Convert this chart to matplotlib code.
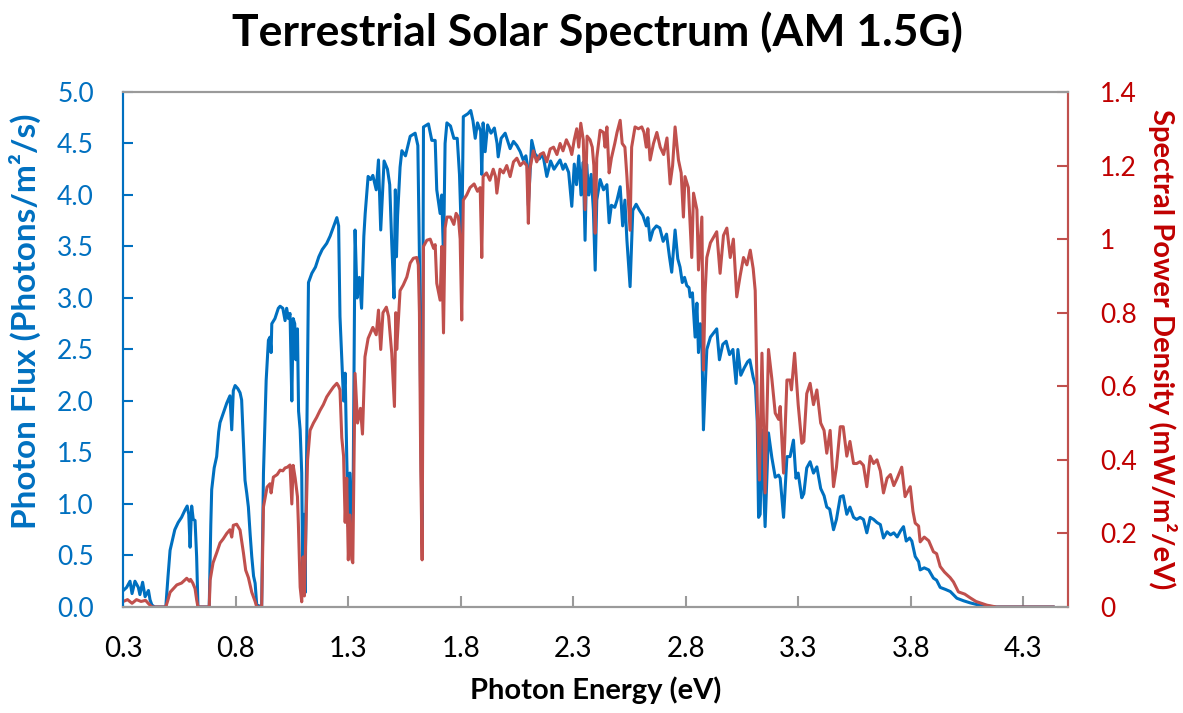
import numpy as np
import matplotlib
matplotlib.use("Agg")
import matplotlib.pyplot as plt

plt.rcParams['font.family'] = ['Lato', 'DejaVu Sans']

# photon flux (left axis)
flux_energy = [
    0.301, 0.316, 0.331, 0.340, 0.353, 0.368, 0.375, 0.387, 0.398, 0.413, 0.420, 0.428, 0.440,
    0.490, 0.500, 0.509, 0.530, 0.545, 0.560, 0.575, 0.585, 0.592, 0.598, 0.605, 0.612, 0.620,
    0.627, 0.633, 0.683, 0.690, 0.694, 0.705, 0.716, 0.725, 0.731, 0.745, 0.761, 0.775, 0.783,
    0.790, 0.798, 0.810, 0.820, 0.827, 0.835, 0.842, 0.850, 0.857, 0.865, 0.872, 0.880, 0.887,
    0.894, 0.916, 0.924, 0.936, 0.946, 0.953, 0.958, 0.961, 0.975, 0.990, 0.998, 1.010, 1.020,
    1.027, 1.035, 1.042, 1.050, 1.056, 1.063, 1.068, 1.075, 1.080, 1.087, 1.094, 1.099, 1.104,
    1.109, 1.116, 1.124, 1.139, 1.155, 1.170, 1.185, 1.205, 1.220, 1.235, 1.250, 1.258, 1.264,
    1.272, 1.280, 1.287, 1.294, 1.301, 1.308, 1.316, 1.322, 1.331, 1.340, 1.350, 1.360, 1.370,
    1.376, 1.389, 1.400, 1.410, 1.425, 1.435, 1.445, 1.460, 1.475, 1.485, 1.494, 1.504, 1.510,
    1.515, 1.520, 1.531, 1.539, 1.555, 1.576, 1.598, 1.610, 1.617, 1.623, 1.629, 1.635, 1.657,
    1.672, 1.687, 1.694, 1.709, 1.716, 1.724, 1.731, 1.739, 1.755, 1.770, 1.785, 1.795, 1.805,
    1.812, 1.833, 1.845, 1.855, 1.865, 1.875, 1.889, 1.894, 1.900, 1.909, 1.920, 1.935, 1.950,
    1.962, 1.967, 1.980, 1.998, 2.010, 2.020, 2.035, 2.050, 2.065, 2.078, 2.090, 2.096, 2.101,
    2.116, 2.130, 2.150, 2.165, 2.183, 2.200, 2.215, 2.230, 2.242, 2.255, 2.265, 2.280, 2.294,
    2.305, 2.315, 2.325, 2.335, 2.345, 2.353, 2.360, 2.370, 2.380, 2.390, 2.398, 2.405, 2.420,
    2.435, 2.450, 2.460, 2.470, 2.485, 2.495, 2.509, 2.520, 2.530, 2.539, 2.553, 2.565, 2.580,
    2.595, 2.610, 2.625, 2.632, 2.642, 2.655, 2.670, 2.685, 2.700, 2.715, 2.728, 2.738, 2.753,
    2.765, 2.775, 2.785, 2.795, 2.805, 2.815, 2.820, 2.830, 2.842, 2.850, 2.857, 2.865, 2.872,
    2.879, 2.886, 2.894, 2.910, 2.924, 2.938, 2.950, 2.965, 2.980, 2.995, 3.010, 3.024, 3.032,
    3.045, 3.060, 3.075, 3.085, 3.100, 3.110, 3.118, 3.124, 3.131, 3.139, 3.146, 3.153, 3.168,
    3.183, 3.198, 3.213, 3.220, 3.235, 3.250, 3.264, 3.279, 3.290, 3.300, 3.316, 3.325, 3.338,
    3.353, 3.368, 3.383, 3.400, 3.415, 3.427, 3.440, 3.457, 3.470, 3.487, 3.500, 3.516, 3.530,
    3.546, 3.560, 3.575, 3.590, 3.605, 3.620, 3.635, 3.650, 3.665, 3.679, 3.695, 3.710, 3.725,
    3.740, 3.755, 3.768, 3.780, 3.795, 3.805, 3.820, 3.835, 3.842, 3.860, 3.880, 3.901, 3.915,
    3.931, 3.955, 3.976, 4.005, 4.035, 4.064, 4.109, 4.180, 4.433,
]
flux = [
    0.16, 0.19, 0.25, 0.13, 0.25, 0.19, 0.12, 0.24, 0.10, 0.16, 0.07, 0.02, 0.0,
    0.0, 0.30, 0.55, 0.75, 0.82, 0.87, 0.94, 0.98, 0.90, 0.58, 0.98, 0.85, 0.84,
    0.49, 0.0, 0.0, 0.80, 1.14, 1.35, 1.46, 1.70, 1.79, 1.88, 1.98, 2.05, 1.72,
    2.10, 2.15, 2.12, 2.08, 2.01, 1.60, 1.23, 1.10, 0.97, 0.70, 0.49, 0.30, 0.23,
    0.02, 0.0, 1.30, 2.20, 2.59, 2.62, 2.47, 2.75, 2.80, 2.90, 2.92, 2.90, 2.78,
    2.90, 2.80, 2.85, 2.00, 2.80, 2.75, 2.40, 2.70, 1.90, 1.72, 1.30, 0.15, 0.90,
    0.14, 1.50, 3.15, 3.24, 3.30, 3.40, 3.47, 3.53, 3.60, 3.69, 3.78, 3.70, 2.82,
    2.40, 2.00, 2.27, 1.46, 0.78, 1.30, 0.72, 1.00, 3.66, 3.00, 3.20, 2.90, 3.60,
    3.82, 4.18, 4.15, 4.19, 4.05, 4.34, 3.66, 4.33, 4.25, 4.10, 3.53, 3.00, 4.05,
    3.40, 3.80, 4.27, 4.43, 4.38, 4.57, 4.60, 4.48, 3.40, 1.80, 0.62, 4.66, 4.69,
    4.53, 4.53, 4.05, 3.82, 4.00, 3.40, 4.50, 4.70, 4.67, 4.55, 4.55, 4.20, 3.50,
    4.76, 4.79, 4.82, 4.72, 4.55, 4.70, 4.62, 4.20, 4.70, 4.42, 4.68, 4.60, 4.65,
    4.50, 4.37, 4.55, 4.60, 4.52, 4.45, 4.52, 4.48, 4.42, 4.34, 4.38, 4.30, 3.90,
    4.53, 4.40, 4.35, 4.40, 4.18, 4.33, 4.25, 4.30, 4.34, 4.25, 4.30, 4.22, 3.89,
    4.30, 4.10, 4.38, 4.00, 4.32, 3.56, 4.30, 4.00, 4.20, 3.85, 3.27, 3.95, 4.15,
    4.05, 4.10, 3.73, 3.90, 3.88, 3.95, 4.08, 3.70, 3.95, 3.56, 3.11, 3.85, 3.91,
    3.85, 3.80, 3.70, 3.78, 3.56, 3.66, 3.70, 3.68, 3.55, 3.62, 3.40, 3.25, 3.66,
    3.38, 3.30, 3.15, 3.20, 3.12, 3.10, 3.01, 3.05, 2.62, 2.95, 2.47, 2.75, 2.55,
    1.72, 2.10, 2.50, 2.62, 2.66, 2.70, 2.40, 2.55, 2.58, 2.45, 2.50, 2.17, 2.50,
    2.25, 2.32, 2.38, 2.40, 2.23, 2.15, 1.80, 0.87, 0.90, 1.72, 1.20, 0.78, 1.69,
    1.45, 1.26, 1.28, 1.25, 0.87, 1.46, 1.46, 1.62, 1.25, 1.30, 1.06, 1.10, 1.35,
    1.41, 1.30, 1.36, 1.15, 1.08, 0.97, 0.95, 0.75, 0.85, 1.07, 1.08, 0.90, 0.97,
    0.87, 0.85, 0.87, 0.85, 0.72, 0.87, 0.85, 0.82, 0.80, 0.67, 0.73, 0.70, 0.72,
    0.68, 0.74, 0.78, 0.64, 0.67, 0.64, 0.49, 0.44, 0.36, 0.38, 0.36, 0.28, 0.26,
    0.19, 0.17, 0.15, 0.085, 0.06, 0.04, 0.015, 0.0, 0.0,
]

# spectral power density (right axis)
power_energy = [
    0.301, 0.320, 0.340, 0.360, 0.380, 0.400, 0.415, 0.428, 0.490, 0.500, 0.509, 0.539, 0.560,
    0.583, 0.595, 0.600, 0.610, 0.620, 0.627, 0.633, 0.683, 0.687, 0.700, 0.716, 0.731, 0.745,
    0.761, 0.775, 0.783, 0.790, 0.805, 0.820, 0.835, 0.845, 0.857, 0.872, 0.887, 0.894, 0.916,
    0.924, 0.940, 0.953, 0.958, 0.968, 0.985, 0.998, 1.010, 1.020, 1.030, 1.042, 1.050, 1.056,
    1.065, 1.075, 1.079, 1.087, 1.094, 1.100, 1.106, 1.112, 1.120, 1.131, 1.146, 1.160, 1.176,
    1.190, 1.205, 1.220, 1.235, 1.250, 1.258, 1.264, 1.272, 1.280, 1.287, 1.294, 1.301, 1.308,
    1.316, 1.321, 1.331, 1.342, 1.355, 1.364, 1.375, 1.389, 1.410, 1.425, 1.435, 1.445, 1.455,
    1.470, 1.480, 1.494, 1.506, 1.512, 1.516, 1.531, 1.545, 1.561, 1.576, 1.590, 1.605, 1.612,
    1.617, 1.623, 1.629, 1.635, 1.650, 1.665, 1.680, 1.687, 1.694, 1.709, 1.716, 1.724, 1.731,
    1.739, 1.755, 1.770, 1.780, 1.790, 1.798, 1.805, 1.812, 1.827, 1.842, 1.860, 1.875, 1.887,
    1.894, 1.900, 1.915, 1.930, 1.945, 1.955, 1.961, 1.975, 1.990, 2.005, 2.020, 2.035, 2.050,
    2.065, 2.080, 2.094, 2.101, 2.108, 2.123, 2.138, 2.153, 2.168, 2.183, 2.198, 2.213, 2.228,
    2.242, 2.255, 2.270, 2.285, 2.294, 2.305, 2.316, 2.325, 2.334, 2.345, 2.353, 2.362, 2.375,
    2.385, 2.392, 2.398, 2.405, 2.420, 2.435, 2.442, 2.450, 2.460, 2.470, 2.485, 2.495, 2.509,
    2.518, 2.530, 2.539, 2.553, 2.560, 2.575, 2.590, 2.605, 2.615, 2.625, 2.632, 2.642, 2.657,
    2.672, 2.687, 2.702, 2.717, 2.731, 2.742, 2.753, 2.768, 2.780, 2.790, 2.797, 2.812, 2.827,
    2.835, 2.850, 2.857, 2.872, 2.879, 2.886, 2.894, 2.910, 2.924, 2.938, 2.953, 2.968, 2.983,
    2.998, 3.012, 3.027, 3.042, 3.057, 3.072, 3.087, 3.100, 3.109, 3.120, 3.128, 3.139, 3.146,
    3.153, 3.168, 3.183, 3.198, 3.213, 3.220, 3.235, 3.250, 3.264, 3.270, 3.284, 3.300, 3.316,
    3.325, 3.338, 3.353, 3.368, 3.383, 3.400, 3.415, 3.427, 3.442, 3.457, 3.470, 3.487, 3.500,
    3.516, 3.530, 3.546, 3.560, 3.575, 3.590, 3.605, 3.620, 3.635, 3.650, 3.665, 3.679, 3.695,
    3.710, 3.725, 3.740, 3.760, 3.775, 3.798, 3.810, 3.820, 3.835, 3.842, 3.860, 3.880, 3.901,
    3.915, 3.931, 3.950, 3.975, 3.990, 4.012, 4.040, 4.064, 4.090, 4.138, 4.180, 4.433,
]
power = [
    0.015, 0.020, 0.010, 0.020, 0.015, 0.018, 0.008, 0.0, 0.0, 0.020, 0.040, 0.060, 0.065,
    0.078, 0.070, 0.075, 0.065, 0.050, 0.020, 0.0, 0.0, 0.073, 0.120, 0.147, 0.174, 0.185,
    0.200, 0.210, 0.190, 0.222, 0.225, 0.209, 0.147, 0.100, 0.080, 0.040, 0.015, 0.0, 0.0,
    0.272, 0.326, 0.335, 0.310, 0.353, 0.360, 0.372, 0.370, 0.378, 0.380, 0.386, 0.280, 0.385,
    0.350, 0.300, 0.228, 0.054, 0.014, 0.136, 0.030, 0.200, 0.400, 0.480, 0.500, 0.515, 0.535,
    0.550, 0.571, 0.585, 0.598, 0.608, 0.600, 0.590, 0.460, 0.410, 0.230, 0.350, 0.128, 0.250,
    0.130, 0.120, 0.635, 0.500, 0.540, 0.470, 0.680, 0.730, 0.760, 0.740, 0.807, 0.700, 0.800,
    0.815, 0.790, 0.690, 0.545, 0.800, 0.700, 0.860, 0.875, 0.897, 0.935, 0.948, 0.950, 0.930,
    0.800, 0.370, 0.128, 0.980, 0.997, 1.000, 0.975, 0.985, 0.880, 0.834, 0.980, 0.745, 1.030,
    1.060, 1.060, 1.040, 1.070, 1.060, 1.000, 0.780, 1.106, 1.120, 1.140, 1.150, 1.130, 1.140,
    0.950, 1.170, 1.180, 1.160, 1.190, 1.170, 1.125, 1.190, 1.180, 1.200, 1.170, 1.210, 1.220,
    1.200, 1.210, 1.200, 1.043, 1.190, 1.240, 1.210, 1.230, 1.235, 1.210, 1.245, 1.250, 1.230,
    1.260, 1.240, 1.270, 1.250, 1.230, 1.270, 1.300, 1.250, 1.315, 1.270, 1.080, 1.280, 1.270,
    1.250, 1.200, 1.016, 1.220, 1.296, 1.290, 1.250, 1.305, 1.180, 1.220, 1.260, 1.290, 1.323,
    1.260, 1.250, 1.170, 1.024, 1.250, 1.305, 1.300, 1.305, 1.290, 1.250, 1.300, 1.215, 1.260,
    1.290, 1.250, 1.230, 1.275, 1.150, 1.200, 1.305, 1.215, 1.180, 1.060, 1.170, 1.140, 0.950,
    1.125, 1.080, 0.916, 1.060, 0.644, 0.850, 0.950, 0.990, 1.005, 1.020, 0.907, 1.010, 1.030,
    0.950, 1.000, 0.843, 0.900, 0.950, 0.930, 0.970, 0.920, 0.860, 0.500, 0.345, 0.690, 0.500,
    0.310, 0.700, 0.620, 0.527, 0.510, 0.545, 0.364, 0.617, 0.617, 0.590, 0.690, 0.550, 0.445,
    0.450, 0.580, 0.608, 0.550, 0.590, 0.500, 0.480, 0.418, 0.480, 0.327, 0.380, 0.490, 0.490,
    0.410, 0.450, 0.390, 0.390, 0.395, 0.385, 0.327, 0.410, 0.390, 0.400, 0.370, 0.310, 0.350,
    0.360, 0.330, 0.350, 0.380, 0.300, 0.327, 0.260, 0.228, 0.220, 0.177, 0.190, 0.180, 0.150,
    0.145, 0.110, 0.095, 0.080, 0.068, 0.041, 0.035, 0.025, 0.015, 0.005, 0.0, 0.0,
]

x_ticks = [0.3, 0.8, 1.3, 1.8, 2.3, 2.8, 3.3, 3.8, 4.3]
flux_ticks = [0.0, 0.5, 1.0, 1.5, 2.0, 2.5, 3.0, 3.5, 4.0, 4.5, 5.0]
power_ticks = [0, 0.2, 0.4, 0.6, 0.8, 1.0, 1.2, 1.4]
power_tick_labels = ['0', '0.2', '0.4', '0.6', '0.8', '1', '1.2', '1.4']

BLUE = '#0070C0'
RED_LINE = '#C0504D'
RED_TEXT = '#C00000'
GREY = '#9A9A9A'

fig = plt.figure(figsize=(11.83, 7.13), dpi=100)
ax = fig.add_axes([0.104, 0.1487, 0.799, 0.7223])
ax2 = ax.twinx()

ax.plot(flux_energy, flux, color=BLUE, lw=2.2, solid_joinstyle='round')
ax2.plot(power_energy, power, color=RED_LINE, lw=2.2, solid_joinstyle='round')

ax.set_xlim(0.3, 4.5)
ax.set_ylim(0, 5.0)
ax2.set_ylim(0, 1.4)

ax.set_xticks(x_ticks)
ax.set_xticklabels(['{:.1f}'.format(v) for v in x_ticks])
ax.set_yticks(flux_ticks)
ax.set_yticklabels(['{:.1f}'.format(v) for v in flux_ticks])
ax2.set_yticks(power_ticks)
ax2.set_yticklabels(power_tick_labels)

ax.tick_params(axis='x', direction='in', length=8, width=1.5, color=GREY, pad=21,
               labelsize=20, labelcolor='black')
ax.tick_params(axis='y', direction='in', length=7, width=1.5, color=BLUE, pad=21,
               labelsize=19, labelcolor=BLUE)
ax2.tick_params(axis='y', direction='in', length=8, width=1.5, color=RED_LINE, pad=23,
                labelsize=19, labelcolor=RED_TEXT)

for a in (ax, ax2):
    a.spines['top'].set_color(GREY)
    a.spines['bottom'].set_color(GREY)
    a.spines['left'].set_color(BLUE)
    a.spines['right'].set_color(RED_LINE)
    for s in a.spines.values():
        s.set_linewidth(1.5)

ax.set_xlabel('Photon Energy (eV)', fontsize=21, fontweight='bold', labelpad=10)
ax.set_ylabel('Photon Flux (Photons/m²/s)', fontsize=24, fontweight='bold', color=BLUE)
ax.yaxis.set_label_coords(-0.087, 0.555)
ax2.set_ylabel('Spectral Power Density (mW/m²/eV)', fontsize=21, fontweight='bold',
               color=RED_TEXT, rotation=270, va='center')
ax2.yaxis.set_label_coords(1.1, 0.5)

fig.text(0.505, 0.955, 'Terrestrial Solar Spectrum (AM 1.5G)', fontsize=32,
         fontweight='bold', ha='center', va='center')

fig.savefig('out.png', dpi=100)
